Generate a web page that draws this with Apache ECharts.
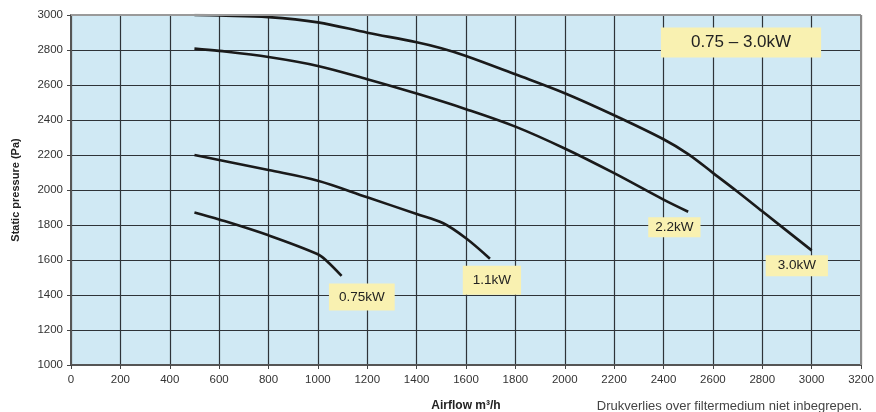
<!DOCTYPE html>
<html>
<head>
<meta charset="utf-8">
<script src="https://cdn.jsdelivr.net/npm/echarts@6/dist/echarts.min.js"></script>
<style>
  html, body { margin: 0; padding: 0; background: #fff; }
  #chart { width: 876px; height: 412px; }
</style>
</head>
<body>
<div id="chart"></div>
<script>
// fan curves: [airflow m3/h, static pressure Pa]
var kw075 = [[500, 1872], [600, 1832], [800, 1741], [1000, 1633], [1036, 1594], [1096, 1509]];
var kw11 = [[500, 2200], [600, 2171], [800, 2114], [1000, 2053], [1200, 1958], [1400, 1863], [1508, 1810], [1600, 1724], [1697, 1607]];
var kw22 = [[500, 2808], [600, 2795], [800, 2760], [1000, 2709], [1200, 2633], [1400, 2551], [1600, 2462], [1800, 2362], [2000, 2237], [2200, 2096], [2400, 1945], [2500, 1876]];
var kw30 = [[500, 3000], [600, 2997], [800, 2988], [1000, 2958], [1200, 2899], [1400, 2844], [1500, 2810], [1600, 2766], [1800, 2661], [2000, 2553], [2200, 2427], [2400, 2290], [2500, 2205], [2600, 2098], [2700, 1990], [2800, 1878], [3000, 1655]];

// label boxes: [x, y, text]
var curveLabels = [
  [1178, 1388, '0.75kW'],
  [1705, 1485, '1.1kW'],
  [2444, 1787, '2.2kW'],
  [2940, 1567, '3.0kW']
];
var rangeLabel = [2714, 2843, '0.75 \u2013 3.0kW'];

var chart = echarts.init(document.getElementById('chart'));

function curve(name, data) {
  return {
    name: name,
    type: 'line',
    data: data,
    smooth: 0.35,
    symbol: 'none',
    lineStyle: { color: '#1a1a1a', width: 2.6 },
    z: 3
  };
}

var labelData = curveLabels.map(function (d) {
  return { value: [d[0], d[1]], name: d[2] };
});
labelData[0].label = { padding: [7, 10, 6, 10] };
labelData[1].label = { padding: [8, 10, 7, 10] };
labelData[2].label = { padding: [3, 7, 3, 7] };
labelData[3].label = { padding: [4, 12, 3, 12] };
labelData.push({
  value: [rangeLabel[0], rangeLabel[1]],
  name: rangeLabel[2],
  label: { fontSize: 17, padding: [7, 30, 6, 30] }
});

var option = {
  animation: false,
  grid: {
    left: 71, right: 15, top: 15, bottom: 47,
    outerBoundsMode: 'none', containLabel: false,
    show: true, backgroundColor: '#d0e9f4', borderWidth: 0
  },
  xAxis: {
    type: 'value',
    min: 0, max: 3200, interval: 200,
    name: 'Airflow m\u00b3/h',
    nameLocation: 'middle',
    nameGap: 35,
    nameTextStyle: { fontFamily: 'Liberation Sans', fontWeight: 'bold', fontSize: 12, color: '#222' },
    axisLine: { show: true, onZero: false, lineStyle: { color: '#555', width: 2 } },
    axisTick: { show: true, length: 4, lineStyle: { color: '#444' } },
    axisLabel: { fontFamily: 'Liberation Sans', fontSize: 11.5, color: '#333', margin: 9, formatter: function (v) { return String(v); } },
    splitLine: { show: true, lineStyle: { color: '#2e3338', width: 1.2 } }
  },
  yAxis: {
    type: 'value',
    min: 1000, max: 3000, interval: 200,
    name: 'Static pressure (Pa)',
    nameLocation: 'middle',
    nameGap: 50,
    nameTextStyle: { fontFamily: 'Liberation Sans', fontWeight: 'bold', fontSize: 11, color: '#222' },
    axisLine: { show: true, lineStyle: { color: '#555', width: 2 } },
    axisTick: { show: true, length: 4, lineStyle: { color: '#444' } },
    axisLabel: { fontFamily: 'Liberation Sans', fontSize: 11.5, color: '#333', margin: 8, formatter: function (v) { return String(v); } },
    splitLine: { show: true, lineStyle: { color: '#2e3338', width: 1.2 } }
  },
  graphic: [
    { type: 'line', shape: { x1: 71, y1: 15, x2: 861, y2: 15 }, style: { stroke: '#9a9a9a', lineWidth: 2 }, z: 10 },
    { type: 'line', shape: { x1: 861, y1: 15, x2: 861, y2: 365 }, style: { stroke: '#8a8a8a', lineWidth: 2 }, z: 10 },
    {
      type: 'text', right: 14, top: 400,
      style: { text: 'Drukverlies over filtermedium niet inbegrepen.', fontFamily: 'Liberation Sans', fontSize: 13, fill: '#444' }
    }
  ],
  series: [
    curve('0.75kW', kw075),
    curve('1.1kW', kw11),
    curve('2.2kW', kw22),
    curve('3.0kW', kw30),
    {
      type: 'scatter',
      symbolSize: 0,
      data: labelData,
      z: 5,
      itemStyle: { opacity: 1 },
      label: {
        show: true,
        position: 'inside',
        formatter: '{b}',
        fontFamily: 'Liberation Sans',
        fontSize: 13.5,
        color: '#222',
        backgroundColor: '#f9f1b1',
        padding: [5, 10, 5, 10]
      }
    }
  ]
};

chart.setOption(option);
</script>
</body>
</html>
